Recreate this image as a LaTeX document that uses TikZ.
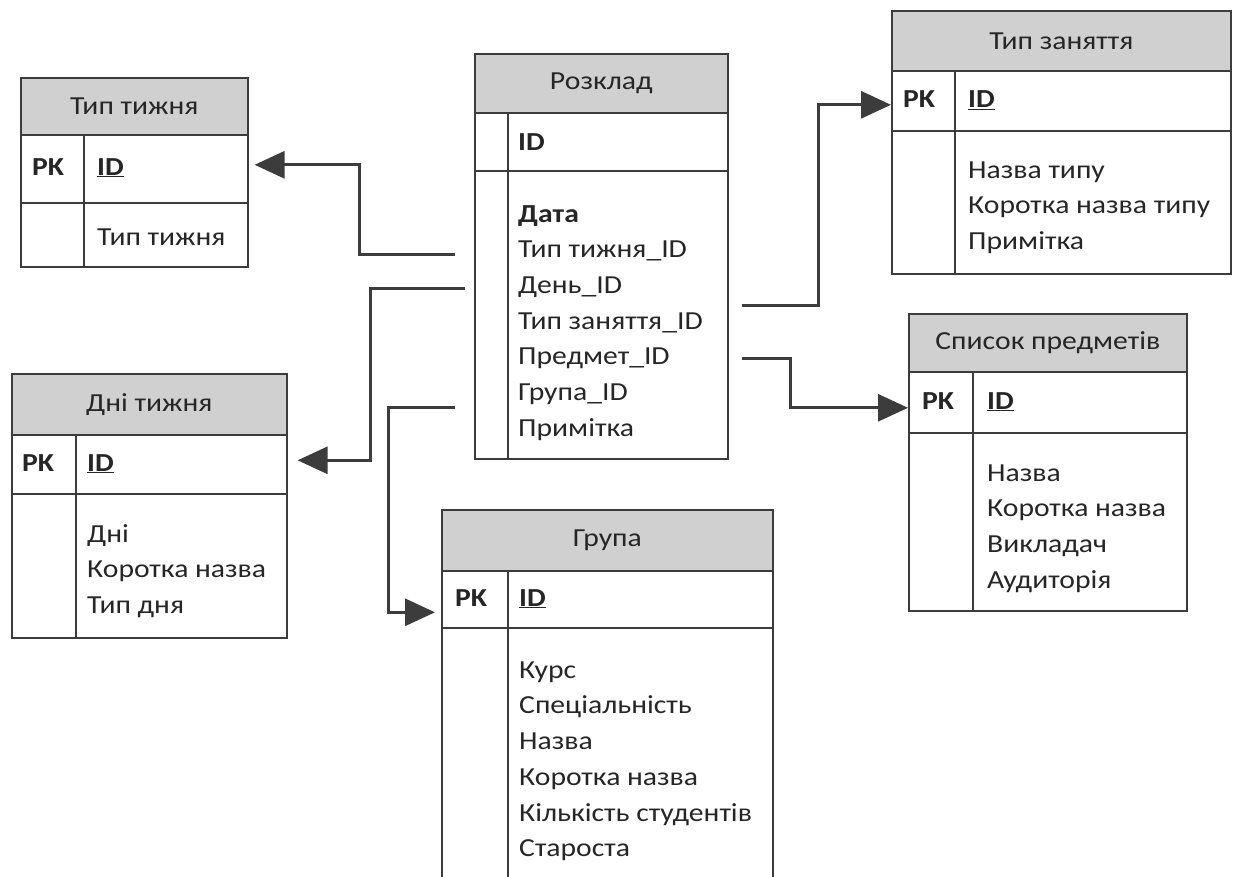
\documentclass[tikz,border=0pt]{standalone}
\usepackage{fontspec}
\setmainfont{Carlito}[FakeStretch=1.14]
\usetikzlibrary{arrows.meta,calc}
\definecolor{linec}{HTML}{3C3C3C}
\definecolor{hdrc}{HTML}{D0D0D0}
\definecolor{txtc}{HTML}{262626}
\newcommand\erfont{\fontsize{26}{35.7}\selectfont}
\newcommand\ertbl[9]{%
  \node[hdr, minimum width=#4-#3, minimum height=#6-#5] (#1-h) at (#3,#5) {#2};
  \node[rowbox, minimum width=#4-#3, minimum height=#7-#6] (#1-k) at (#3,#6) {};
  \node[rowbox, minimum width=#4-#3, minimum height=#8-#7] (#1-a) at (#3,#7) {};
  \draw[tblline] (#9,#6) -- (#9,#8);
}
\tikzset{
  tblline/.style={draw=linec, line width=1.6pt},
  hdr/.style={tblline, fill=hdrc, anchor=north west, inner sep=0pt, text=txtc, font=\erfont},
  rowbox/.style={tblline, anchor=north west, inner sep=0pt},
  lbl/.style={anchor=base west, inner sep=0pt, text=txtc, font=\erfont},
  attrs/.style={anchor=north west, inner sep=0pt, align=left, text=txtc, font=\erfont},
  conn/.style={draw=linec, line width=3pt, -{Triangle[length=30pt,width=27pt]}},
}
\begin{document}
\begin{tikzpicture}[x=1pt,y=-1pt]
\useasboundingbox (0,0) rectangle (1237,876);
\clip (0,0) rectangle (1237,876);
\fill[white] (0,0) rectangle (1237,876);

% tables: name, title, left, right, top, hdr bottom, key bottom, bottom, divider
\ertbl{tt}{Тип тижня}{20}{247}{77}{134}{202}{266}{84}
\ertbl{rz}{Розклад}{474}{727}{53}{112}{170}{458}{508}
\ertbl{tz}{Тип заняття}{891}{1230}{10}{70}{130}{273}{955}
\ertbl{sp}{Список предметів}{908}{1186}{313}{371}{432}{610}{973}
\ertbl{dt}{Дні тижня}{11}{286}{373}{434}{493}{637}{76}
\ertbl{gr}{Група}{441}{772}{509}{570}{627}{900}{508}

% key rows
\node[lbl] (tt-pk) at (32,175) {\textbf{PK}};
\node[lbl] (tt-id) at (97,175) {\textbf{\underline{ID}}};
\node[lbl] (rz-id) at (518,150) {\textbf{ID}};
\node[lbl] (tz-pk) at (903,107.5) {\textbf{PK}};
\node[lbl] (tz-id) at (968,107.5) {\textbf{\underline{ID}}};
\node[lbl] (sp-pk) at (922,409) {\textbf{PK}};
\node[lbl] (sp-id) at (987,409) {\textbf{\underline{ID}}};
\node[lbl] (dt-pk) at (22,471) {\textbf{PK}};
\node[lbl] (dt-id) at (87,471) {\textbf{\underline{ID}}};
\node[lbl] (gr-pk) at (455,606) {\textbf{PK}};
\node[lbl] (gr-id) at (519,606) {\textbf{\underline{ID}}};

% attribute lists (first baseline = top + 0.7*35.7)
\node[attrs] (tt-at) at (97,245-25) {\strut Тип тижня};
\node[attrs] (rz-at) at (518,222-25) {\strut\textbf{Дата}\\Тип тижня\_ID\\День\_ID\\Тип заняття\_ID\\Предмет\_ID\\Група\_ID\\Примітка};
\node[attrs] (tz-at) at (968,178-25) {\strut Назва типу\\Коротка назва типу\\Примітка};
\node[attrs] (sp-at) at (987,481-25) {\strut Назва\\Коротка назва\\Викладач\\Аудиторія};
\node[attrs] (dt-at) at (87,542-25) {\strut Дні\\Коротка назва\\Тип дня};
\node[attrs] (gr-at) at (519,678-25) {\strut Курс\\Спеціальність\\Назва\\Коротка назва\\Кількість студентів\\Староста};

% connectors
\coordinate (s1) at (455,254);
\coordinate (s2) at (465,288);
\coordinate (s3) at (455,407);
\coordinate (s4) at (742,305);
\coordinate (s5) at (742,358);
\draw[conn] (s1) -- ++(-96,0) |- ($(tt-k.east)+(6,-4)$);
\draw[conn] (s2) -- ++(-95,0) |- ($(dt-k.east)+(10,-4)$);
\draw[conn] (s3) -- ++(-67,0) |- ($(gr-k.west)+(-6,13)$);
\draw[conn] (s4) -- ++(76,0) |- ($(tz-k.west)+(0,4)$);
\draw[conn] (s5) -- ++(48,0) |- ($(sp-k.west)+(0,5.5)$);
\end{tikzpicture}
\end{document}
